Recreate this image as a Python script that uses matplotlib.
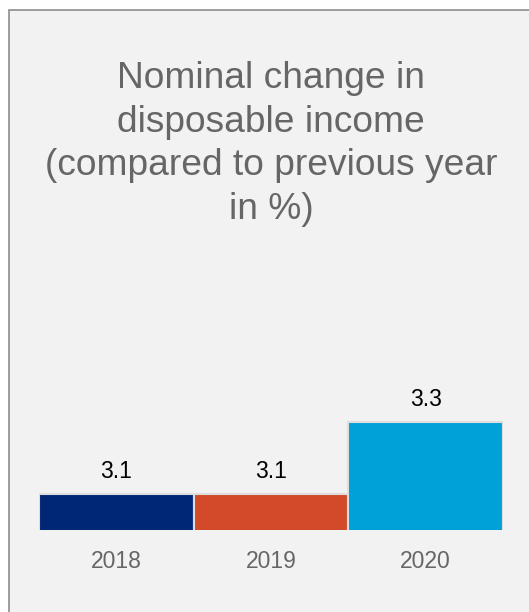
import matplotlib
matplotlib.use("Agg")
import matplotlib.pyplot as plt
from matplotlib.patches import Rectangle

plt.rcParams['font.family'] = ['Liberation Sans', 'DejaVu Sans']

years = ["2018", "2019", "2020"]
change = [3.1, 3.1, 3.3]
colors = ["#002776", "#d24a29", "#00a0d9"]
title = "Nominal change in\ndisposable income\n(compared to previous year\nin %)"

W, H = 529, 612
fig = plt.figure(figsize=(W / 100, H / 100), dpi=100, facecolor="white")

# grey panel with a thin border
panel = Rectangle((9 / W, -0.05), 1.0, 1 - 10 / H + 0.05, transform=fig.transFigure,
                  facecolor="#f2f2f2", edgecolor="#8c8c8c", linewidth=1.2, zorder=-1)
fig.patches.append(panel)

fig.text(271 / W, 1 - 61 / H, title, ha="center", va="top", fontsize=26.7,
         color="#666666", linespacing=1.32)

base = 3.0
px_per_unit = 360
top_val = 3.5
ax_h = (top_val - base) * px_per_unit
ax = fig.add_axes([39 / W, (H - 530) / H, (503 - 39) / W, ax_h / H])
ax.set_facecolor("none")

x = range(len(years))
ax.bar(x, change, width=1.0, bottom=0, color=colors, edgecolor="#dedede", linewidth=1.5)
ax.set_xlim(-0.5, 2.5)
ax.set_ylim(base, top_val)
ax.axis("off")

for i, v in enumerate(change):
    ax.annotate(f"{v:.1f}", (i, v), xytext=(0, 22 * 0.72), textcoords="offset points",
                ha="center", va="center", fontsize=16.5, color="black")
    ax.annotate(years[i], (i, base), xytext=(0, -31 * 0.72), textcoords="offset points",
                ha="center", va="center", fontsize=16.5, color="#666666")

fig.savefig("out.png", dpi=100, facecolor="white")
